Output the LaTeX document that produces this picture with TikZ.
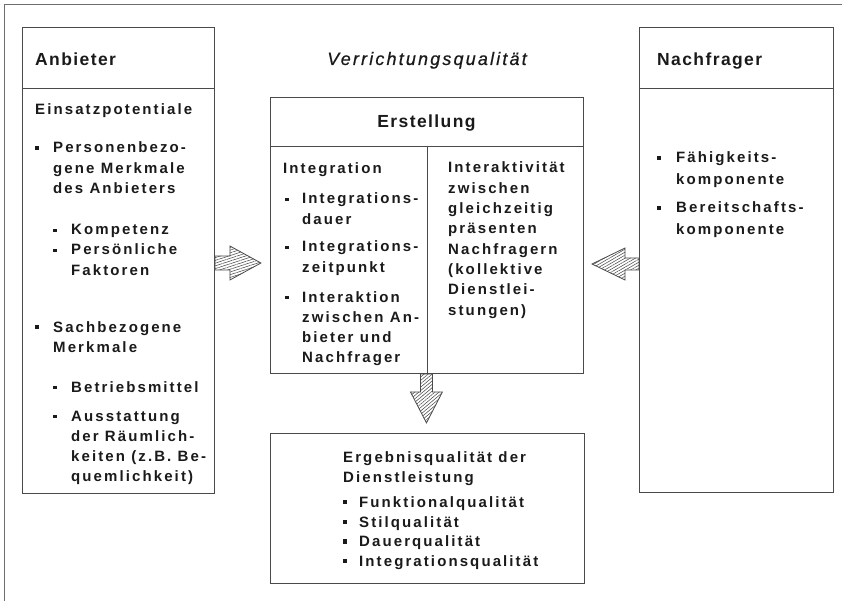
\documentclass[tikz,border=0pt]{standalone}
\usepackage{fontspec}
\setmainfont{Liberation Sans}
\newfontfamily\bodyfont{Liberation Sans}[LetterSpace=14]
\newfontfamily\headfont{Liberation Sans}[LetterSpace=8]
\newfontfamily\titlefont{Liberation Sans}[LetterSpace=12,FakeBold=0.6]
\usetikzlibrary{patterns.meta,calc}
\definecolor{ink}{HTML}{1A1A1A}
\definecolor{frame}{HTML}{4A4A4A}
\newcommand\Ls[1]{\begin{tabular}[t]{@{}l@{}}#1\end{tabular}}
\tikzset{
  box/.style={draw=frame, line width=0.9pt, inner sep=0pt, anchor=north west},
  rule/.style={draw=frame, line width=0.9pt},
  body/.style={font=\bodyfont\bfseries\fontsize{15}{20.3}\selectfont, text=ink, inner sep=0pt, anchor=base west},
  bodywide/.style={body, font=\bodyfont\bfseries\fontsize{15}{21.5}\selectfont},
  head/.style={font=\headfont\bfseries\fontsize{17.5}{22}\selectfont, text=ink, inner sep=0pt, anchor=base west},
  bulA/.style={fill=ink, minimum size=4.4pt, inner sep=0pt},
  bulB/.style={fill=ink, minimum size=3.6pt, inner sep=0pt},
  hatch/.style={draw=frame, line width=0.8pt, pattern={Lines[angle=#1,distance=2.6pt,line width=0.55pt]}, pattern color=frame},
}
\begin{document}
\begin{tikzpicture}[x=1pt,y=-1pt]
\useasboundingbox (0,0) rectangle (842,601);
% outer frame
\coordinate (fa) at (4,601);
\coordinate (fb) at (4,4);
\coordinate (fc) at (842,4);
\draw[draw=frame!80, line width=0.8pt] (fa) -- (fb) -- (fc);

% boxes
\node[box, minimum width=192pt, minimum height=466pt] (anb) at (22,27) {};
\node[box, minimum width=313pt, minimum height=276pt] (ers) at (270,97) {};
\node[box, minimum width=314pt, minimum height=150pt] (erg) at (270,433) {};
\node[box, minimum width=194pt, minimum height=465pt] (nach) at (639,27) {};

% separators
\coordinate (anbsep) at (22,88);
\draw[rule] (anbsep) -- (anbsep -| anb.east);
\coordinate (nachsep) at (639,88);
\draw[rule] (nachsep) -- (nachsep -| nach.east);
\coordinate (erssep) at (270,146);
\draw[rule] (erssep) -- (erssep -| ers.east);
\coordinate (divtop) at (427,146);
\draw[rule] (divtop) -- (divtop |- ers.south);

% arrows
\coordinate (la) at ($(anb.north east)+(0,236)$);
\coordinate (lt) at ($(la)+(46,0)$);
\draw[hatch=18] ($(la)+(0,-7)$) -- ++(15,0) -- ++(0,-10) -- (lt) -- ($(la)+(15,17)$) -- ++(0,-10) -- ++(-15,0) -- cycle;
\coordinate (ra) at ($(nach.north west)+(0,237)$);
\coordinate (rt) at ($(ra)+(-47,0)$);
\draw[hatch=30] ($(ra)+(0,-6)$) -- ++(-14,0) -- ++(0,-10) -- (rt) -- ($(ra)+(-14,16)$) -- ++(0,-10) -- ++(14,0) -- cycle;
\coordinate (da) at ($(ers.south)+(-0.5,0)$);
\coordinate (dt) at ($(da)+(0,49)$);
\draw[hatch=40] ($(da)+(-6,0)$) -- ++(0,18) -- ++(-10,0) -- (dt) -- ($(da)+(16,18)$) -- ++(-10,0) -- ++(0,-18) -- cycle;

% title
\node[font=\titlefont\itshape\fontsize{18}{22}\selectfont, text=ink, inner sep=0pt, anchor=base] (title) at (427,65) {Verrichtungsqualität};

% Anbieter
\node[head] (anbh) at (35,66) {Anbieter};
\node[body] (a1) at (35,115) {Einsatzpotentiale};
\node[bulA] (ab1) at (37,148) {};
\node[body] (a2) at (53,153) {\Ls{Personenbezo-\\gene Merkmale\\des Anbieters}};
\node[bulB] (ab2) at (55,230.5) {};
\node[body] (a3) at (71,235) {Kompetenz};
\node[bulB] (ab3) at (55,250.5) {};
\node[body] (a4) at (71,255) {\Ls{Persönliche\\Faktoren}};
\node[bulA] (ab4) at (37,327) {};
\node[body] (a5) at (53,332) {\Ls{Sachbezogene\\Merkmale}};
\node[bulB] (ab5) at (55,387.5) {};
\node[body] (a6) at (71,392) {Betriebsmittel};
\node[bulB] (ab6) at (55,416.5) {};
\node[body] (a7) at (71,421) {\Ls{Ausstattung\\der Räumlich-\\keiten (z.B. Be-\\quemlichkeit)}};

% Erstellung
\node[head, anchor=base] (ersh) at (426.5,128) {Erstellung};
\node[body] (e1) at (283,174) {Integration};
\node[bulB] (eb1) at (287,199.5) {};
\node[body] (e2) at (302,204) {\Ls{Integrations-\\dauer}};
\node[bulB] (eb2) at (287,247.5) {};
\node[body] (e3) at (302,252) {\Ls{Integrations-\\zeitpunkt}};
\node[bulB] (eb3) at (287,297.5) {};
\node[body] (e4) at (302,302) {\Ls{Interaktion\\zwischen An-\\bieter und\\Nachfrager}};
\node[body] (e5) at (448,173) {\Ls{Interaktivität\\zwischen\\gleichzeitig\\präsenten\\Nachfragern\\(kollektive\\Dienstlei-\\stungen)}};

% Ergebnis
\node[body] (g1) at (343,462) {\Ls{Ergebnisqualität der\\Dienstleistung}};
\node[bulA] (gb1) at (345,502) {};
\node[body] (g2) at (359,507) {Funktionalqualität};
\node[bulA] (gb2) at (345,522) {};
\node[body] (g3) at (359,527) {Stilqualität};
\node[bulA] (gb3) at (345,541.5) {};
\node[body] (g4) at (359,546.5) {Dauerqualität};
\node[bulA] (gb4) at (345,561) {};
\node[body] (g5) at (359,566) {Integrationsqualität};

% Nachfrager
\node[head] (nachh) at (657,66) {Nachfrager};
\node[bulA] (nb1) at (659,158) {};
\node[bodywide] (n1) at (676,163) {\Ls{Fähigkeits-\\komponente}};
\node[bulA] (nb2) at (659,208) {};
\node[bodywide] (n2) at (676,213) {\Ls{Bereitschafts-\\komponente}};
\end{tikzpicture}
\end{document}
